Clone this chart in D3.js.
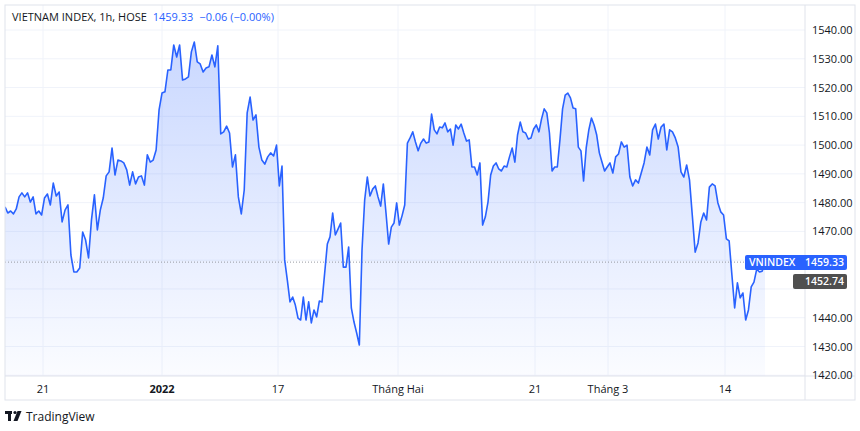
<!DOCTYPE html>
<html><head><meta charset="utf-8">
<script src="https://cdn.jsdelivr.net/npm/d3@7"></script>
<style>body{margin:0;background:#fff;font-family:"Open Sans",Roboto,sans-serif}</style>
</head><body><svg id="c" width="860" height="431"></svg>
<script>
const values=[1478.5,1476.4,1477.1,1476.1,1477.8,1482.0,1483.4,1482.0,1483.4,1480.2,1482.0,1476.1,1477.1,1475.7,1481.6,1483.0,1479.2,1486.8,1482.3,1483.7,1473.3,1477.4,1479.2,1461.8,1455.9,1455.9,1457.3,1469.8,1467.0,1460.8,1474.0,1482.7,1470.5,1477.4,1481.6,1489.3,1490.7,1499.0,1489.6,1494.8,1494.5,1493.8,1491.4,1486.1,1490.7,1486.5,1488.9,1489.3,1486.1,1496.6,1494.1,1494.8,1498.3,1512.2,1518.1,1518.5,1526.1,1526.1,1534.8,1530.6,1534.8,1522.6,1523.0,1523.7,1532.4,1535.8,1528.9,1528.2,1525.4,1526.8,1527.2,1531.3,1527.2,1534.5,1503.9,1504.6,1506.6,
1504.2,1492.4,1496.6,1482.0,1476.1,1484.4,1511.2,1516.7,1508.7,1510.5,1499.3,1494.8,1493.4,1495.9,1497.3,1496.2,1500.0,1485.8,1492.7,1460.1,1453.1,1445.5,1447.2,1444.4,1439.9,1439.2,1447.2,1439.2,1445.5,1438.2,1442.7,1440.3,1445.8,1445.5,1455.5,1465.6,1468.1,1476.4,1468.8,1470.8,1472.9,1457.6,1457.6,1464.6,1443.4,1438.5,1434.7,1430.5,1463.5,1480.9,1488.9,1482.3,1484.7,1485.8,1482.0,1478.8,1486.5,1476.4,1465.6,1471.5,1472.9,1479.9,1472.2,1475.4,1479.2,1500.7,1502.5,1504.6,1501.1,1498.0,1500.7,1502.1,1500.7,1501.1,1510.8,1505.3,1503.9,1506.3,1506.0,1507.7,1504.6,1505.6,1500.0,1507.0,1505.6,1507.3,1504.2,1501.4,1501.8,
1492.4,1492.4,1489.6,1493.8,1472.2,1475.0,1480.2,1489.6,1492.7,1493.8,1491.7,1491.0,1492.7,1492.4,1495.9,1499.0,1494.1,1503.5,1508.0,1504.6,1504.2,1502.1,1502.5,1505.6,1507.0,1504.6,1509.1,1512.6,1511.2,1504.2,1491.0,1492.4,1492.4,1501.8,1512.6,1517.4,1518.1,1516.4,1512.9,1512.6,1499.3,1498.0,1487.5,1499.0,1505.3,1509.4,1507.0,1503.5,1497.3,1494.1,1491.0,1492.4,1493.8,1490.3,1495.9,1496.9,1501.1,1499.3,1500.0,1488.9,1485.8,1487.9,1486.8,1490.3,1493.8,1499.3,1496.6,1505.3,1507.3,1502.1,1506.3,1507.3,1498.3,1505.3,1504.6,1502.5,1499.3,1490.7,1488.9,1493.1,1487.9,1475.4,1462.8,1466.0,1473.3,1476.4,1474.0,1485.4,1486.5,1485.8,1479.9,1476.8,1475.7,1467.4,1466.7,1454.9,1443.4,1452.1,1446.9,1448.6,1439.2,1442.7,1450.7,1452.4,1456.9,1455.9,1456.2,1459.33];
const xTickIdx=[13.5,54,93.5,138.5,189.5,217.3,258.5];
const xTickLabels=["21","2022","17","Tháng Hai","21","Tháng 3","14"];
const yTicks=[1420,1430,1440,1450,1460,1470,1480,1490,1500,1510,1520,1530,1540];
const lastValue=1459.33, otherValue=1452.74;

const svg=d3.select("#c");
const L=5,R=805,T=5,B=376;
const n=values.length-1;
const x=d3.scaleLinear().domain([0,13.5,54,93.5,138.5,189.5,217.3,258.5,n]).range([5,43,162,278,398,535,608,725,765]);
const y=d3.scaleLinear().domain([1430,1540]).range([346.5,30]);
const defs=svg.append("defs");
const g=defs.append("linearGradient").attr("id","gr").attr("x1",0).attr("y1",0).attr("x2",0).attr("y2",1);
g.append("stop").attr("offset","0%").attr("stop-color","#2962ff").attr("stop-opacity",0.25);
g.append("stop").attr("offset","100%").attr("stop-color","#2962ff").attr("stop-opacity",0.02);
defs.append("clipPath").attr("id","cp").append("rect").attr("x",L).attr("y",T).attr("width",R-L).attr("height",B-T);

svg.append("g").selectAll("line").data(yTicks).join("line")
 .attr("x1",L).attr("x2",R).attr("y1",d=>y(d)).attr("y2",d=>y(d)).attr("stroke","#f0f3fa");
svg.append("g").selectAll("line").data(xTickIdx).join("line")
 .attr("x1",d=>x(d)).attr("x2",d=>x(d)).attr("y1",T).attr("y2",B).attr("stroke","#f0f3fa");

const cg=svg.append("g").attr("clip-path","url(#cp)");
cg.append("path").datum(values).attr("fill","url(#gr)")
 .attr("d",d3.area().x((d,i)=>x(i)).y0(B).y1(d=>y(d)));
cg.append("line").attr("x1",L).attr("x2",R).attr("y1",y(lastValue)).attr("y2",y(lastValue))
 .attr("stroke","#9598a1").attr("stroke-dasharray","1,2");
cg.append("path").datum(values).attr("fill","none").attr("stroke","#2962ff").attr("stroke-width",1.6).attr("stroke-linejoin","round")
 .attr("d",d3.line().x((d,i)=>x(i)).y(d=>y(d)));

svg.append("rect").attr("x",L).attr("y",T).attr("width",850).attr("height",395).attr("fill","none").attr("stroke","#e0e3eb");
svg.append("line").attr("x1",R).attr("x2",R).attr("y1",T).attr("y2",400).attr("stroke","#e0e3eb");
svg.append("line").attr("x1",L).attr("x2",855).attr("y1",B).attr("y2",B).attr("stroke","#e0e3eb");

// y axis labels (1450/1460 are covered by the price labels)
svg.append("g").selectAll("text").data(yTicks.filter(d=>d!==1450&&d!==1460)).join("text")
 .attr("x",812).attr("y",d=>y(d)+4).attr("font-size",11).attr("fill","#131722").text(d=>d.toFixed(2));
svg.append("g").selectAll("text").data(xTickIdx).join("text")
 .attr("x",d=>x(d)).attr("y",393).attr("text-anchor","middle").attr("font-size",11).attr("fill","#131722")
 .attr("font-weight",(d,i)=>xTickLabels[i]==="2022"?"bold":"normal").text((d,i)=>xTickLabels[i]);

const yl=y(lastValue);
svg.append("rect").attr("x",745).attr("y",yl-7).attr("width",102).attr("height",15).attr("rx",2).attr("fill","#2962ff");
svg.append("text").attr("x",749).attr("y",yl+4).attr("font-size",10.5).attr("font-weight",600).attr("fill","#fff").text("VNINDEX");
svg.append("text").attr("x",844).attr("y",yl+4).attr("text-anchor","end").attr("font-size",10.5).attr("font-weight",600).attr("fill","#fff").text(lastValue.toFixed(2));
const yo=yl+19;
svg.append("rect").attr("x",793).attr("y",yo-7).attr("width",54).attr("height",15).attr("rx",2).attr("fill","#4f4f4f");
svg.append("text").attr("x",844).attr("y",yo+4).attr("text-anchor","end").attr("font-size",10.5).attr("font-weight",600).attr("fill","#fff").text(otherValue.toFixed(2));

const t=svg.append("text").attr("x",12).attr("y",21).attr("font-size",11);
t.append("tspan").attr("fill","#131722").text("VIETNAM INDEX, 1h, HOSE ");
t.append("tspan").attr("fill","#2962ff").attr("dx",3).text(lastValue.toFixed(2));
t.append("tspan").attr("fill","#2962ff").attr("dx",6).text("−0.06 (−0.00%)");

// TradingView logo mark
const lg=svg.append("g").attr("fill","#131722");
lg.append("rect").attr("x",5).attr("y",411).attr("width",7).attr("height",3);
lg.append("rect").attr("x",8).attr("y",411).attr("width",3).attr("height",10);
lg.append("circle").attr("cx",15).attr("cy",412.5).attr("r",1.6);
lg.append("path").attr("d","M17.5 411 L21.5 411 L17.5 421 L13.5 421 Z");
svg.append("text").attr("x",26).attr("y",421).attr("font-size",12).attr("fill","#131722").text("TradingView");
</script></body></html>
